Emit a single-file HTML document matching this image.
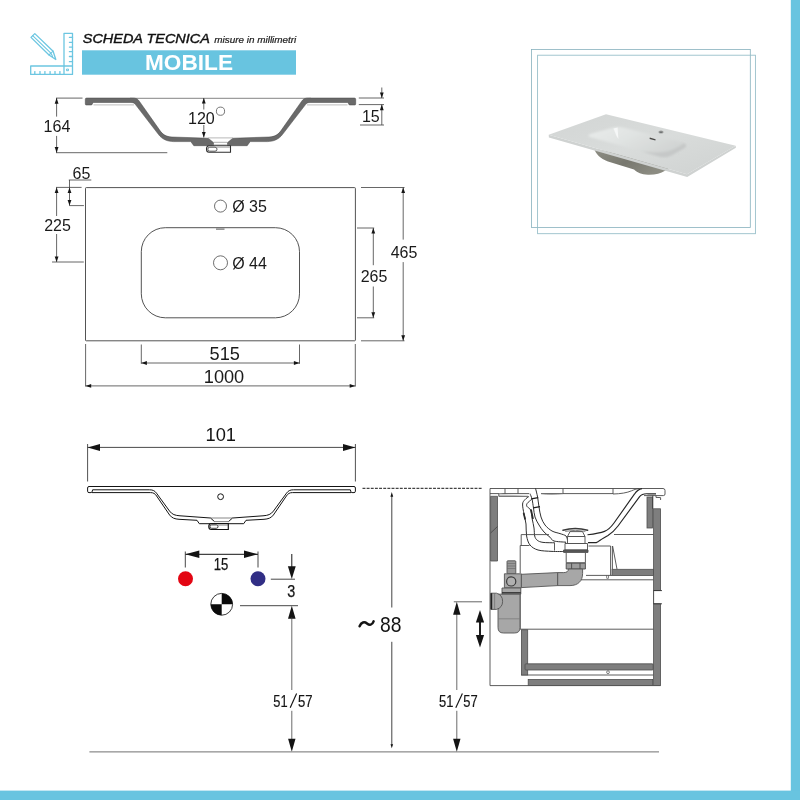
<!DOCTYPE html>
<html><head><meta charset="utf-8"><title>Scheda tecnica</title>
<style>
html,body{margin:0;padding:0;background:#fff;}
body{width:800px;height:800px;overflow:hidden;font-family:"Liberation Sans",sans-serif;}
svg{display:block;will-change:transform;}
svg text{font-family:"Liberation Sans",sans-serif;}
</style></head><body>
<svg width="800" height="800" viewBox="0 0 800 800">
<rect width="800" height="800" fill="#fff"/>
<rect x="790.8" y="0" width="9.2" height="800" fill="#68c4e0"/>
<rect x="0" y="790.6" width="800" height="9.4" fill="#68c4e0"/>
<rect x="82" y="50.3" width="214" height="24.4" fill="#68c4e0"/>
<text x="82.8" y="42.7" font-size="13.5" text-anchor="start" fill="#111" font-style="italic" textLength="127" lengthAdjust="spacingAndGlyphs" stroke="#111" stroke-width="0.4">SCHEDA TECNICA</text>
<text x="214.3" y="42.7" font-size="9.4" text-anchor="start" fill="#1c1c1c" font-style="italic" textLength="82" lengthAdjust="spacingAndGlyphs" stroke="#1c1c1c" stroke-width="0.22">misure in millimetri</text>
<text x="189" y="70" font-size="22.3" text-anchor="middle" fill="#fff" font-weight="bold" textLength="88" lengthAdjust="spacingAndGlyphs">MOBILE</text>
<g fill="none" stroke="#6cc6e1" stroke-width="1.3" stroke-linejoin="round" stroke-linecap="round">
<path d="M30.7 66 H64 V33.3 H72.5 V74.4 H30.7 Z M64 66 H72.5 M64 66 V74.4"/>
<rect x="66.9" y="69.1" width="1.6" height="1.6" stroke-width="1"/>
<path d="M34.8 74.4 V71.6"/>
<path d="M40 74.4 V71.6"/>
<path d="M44.9 74.4 V71.6"/>
<path d="M50.1 74.4 V71.6"/>
<path d="M55 74.4 V71.6"/>
<path d="M59.9 74.4 V71.6"/>
<path d="M72.5 37.4 H69.4"/>
<path d="M72.5 42.3 H69.4"/>
<path d="M72.5 47.1 H69.4"/>
<path d="M72.5 51.7 H69.4"/>
<path d="M72.5 56.5 H69.4"/>
<path d="M72.5 61.7 H69.4"/>
<path d="M31 37.4 L34.8 33.6 L53.1 51.2 L55.8 59.5 L49 55 Z"/>
<path d="M32.7 35.6 L50.9 53.1 M53.1 51.2 L50.9 53.1 L49 55 M50.9 53.1 L52.6 56.6" stroke-width="1.1"/>
</g>
<line x1="56" y1="98.1" x2="82.5" y2="98.1" stroke="#404040" stroke-width="0.8" />
<line x1="130" y1="98.3" x2="311" y2="98.3" stroke="#777" stroke-width="0.9" />
<g fill="#6a6a6a" stroke="#454545" stroke-width="0.5"><path id="secL" d="M86.7 98 H132.5 C136.2 98 137.8 99 139.3 101.2 L160 130.6 C162.6 134.4 166 136.7 172 137 L208.2 138.2 L213.5 142.6 V145.7 H193.8 L190.8 141.6 H173.5 C167 141.4 162.2 139.3 158.6 134.6 L135.5 104.6 C134.4 103.2 133.2 102.5 131 102.5 H93.6 Q92.8 102.5 92.6 103.4 Q92.3 105 91 105 H86.3 Q85.3 105 85.3 104 V99.3 Q85.3 98 86.7 98 Z"/><path d="M86.7 98 H132.5 C136.2 98 137.8 99 139.3 101.2 L160 130.6 C162.6 134.4 166 136.7 172 137 L208.2 138.2 L213.5 142.6 V145.7 H193.8 L190.8 141.6 H173.5 C167 141.4 162.2 139.3 158.6 134.6 L135.5 104.6 C134.4 103.2 133.2 102.5 131 102.5 H93.6 Q92.8 102.5 92.6 103.4 Q92.3 105 91 105 H86.3 Q85.3 105 85.3 104 V99.3 Q85.3 98 86.7 98 Z" transform="translate(441,0) scale(-1,1)"/></g>
<line x1="93.5" y1="104.9" x2="134" y2="104.9" stroke="#b5b5b5" stroke-width="0.9" />
<line x1="307" y1="104.9" x2="347.5" y2="104.9" stroke="#b5b5b5" stroke-width="0.9" />
<line x1="208" y1="137.9" x2="233" y2="137.9" stroke="#999" stroke-width="0.7" />
<line x1="213.5" y1="142.3" x2="227.5" y2="142.3" stroke="#888" stroke-width="0.7" />
<line x1="212.5" y1="144.8" x2="228.5" y2="144.8" stroke="#888" stroke-width="0.6" />
<path d="M209 145.7 H230.5 V152.3 H209 Q206.5 152.3 206.5 149 Q206.5 145.7 209 145.7 Z" fill="#fff" stroke="#2f2f2f" stroke-width="1.1"/>
<rect x="207.8" y="147.2" width="9.2" height="4" rx="2" fill="#fff" stroke="#2f2f2f" stroke-width="0.8"/>
<line x1="217" y1="147.3" x2="230" y2="147.3" stroke="#888" stroke-width="0.6" />
<line x1="56" y1="152.7" x2="167.3" y2="152.7" stroke="#404040" stroke-width="0.8" />
<line x1="56.6" y1="98" x2="56.6" y2="152.7" stroke="#404040" stroke-width="0.8" />
<polygon points="56.6,98.1 54.7,103.69999999999999 58.5,103.69999999999999" fill="#151515"/>
<polygon points="56.6,152.7 54.7,147.1 58.5,147.1" fill="#151515"/>
<rect x="43" y="116.6" width="29" height="19.3" fill="#fff"/>
<text x="57" y="131.6" font-size="16.1" text-anchor="middle" fill="#1a1a1a" >164</text>
<line x1="203.8" y1="98" x2="203.8" y2="137.5" stroke="#404040" stroke-width="0.8" />
<polygon points="203.8,98 201.9,103.6 205.70000000000002,103.6" fill="#151515"/>
<polygon points="203.8,137.5 201.9,131.9 205.70000000000002,131.9" fill="#151515"/>
<rect x="187" y="109.5" width="27" height="15.5" fill="#fff"/>
<text x="201.4" y="123.8" font-size="16.1" text-anchor="middle" fill="#1a1a1a" >120</text>
<circle cx="220.5" cy="111.2" r="4.1" fill="#fff" stroke="#666" stroke-width="0.9"/>
<line x1="358.8" y1="98" x2="384" y2="98" stroke="#404040" stroke-width="0.8" />
<line x1="358.8" y1="104.6" x2="384" y2="104.6" stroke="#404040" stroke-width="0.8" />
<line x1="360" y1="125" x2="384" y2="125" stroke="#404040" stroke-width="0.8" />
<line x1="381.8" y1="87.5" x2="381.8" y2="98" stroke="#404040" stroke-width="0.8" />
<line x1="381.8" y1="104.6" x2="381.8" y2="125" stroke="#404040" stroke-width="0.8" />
<polygon points="381.8,98 379.90000000000003,92.4 383.7,92.4" fill="#151515"/>
<polygon points="381.8,104.6 379.90000000000003,110.19999999999999 383.7,110.19999999999999" fill="#151515"/>
<text x="370.8" y="122" font-size="16" text-anchor="middle" fill="#1a1a1a" >15</text>
<rect x="85.5" y="187.6" width="269.9" height="153.2" rx="0.8" fill="none" stroke="#404040" stroke-width="0.9"/>
<rect x="141.3" y="227.7" width="158.2" height="90.1" rx="24" ry="24" fill="none" stroke="#404040" stroke-width="0.9"/>
<rect x="216" y="228.2" width="8.5" height="1.8" fill="#999"/>
<circle cx="220.5" cy="206.1" r="6" fill="#fff" stroke="#5e5e5e" stroke-width="0.9"/>
<circle cx="220.5" cy="262.8" r="7" fill="#fff" stroke="#5e5e5e" stroke-width="0.9"/>
<text x="232.2" y="212.2" font-size="16" text-anchor="start" fill="#1a1a1a" >Ø 35</text>
<text x="232.2" y="268.9" font-size="16" text-anchor="start" fill="#1a1a1a" >Ø 44</text>
<text x="81.5" y="178.6" font-size="16" text-anchor="middle" fill="#1a1a1a" >65</text>
<line x1="68.8" y1="180" x2="91.3" y2="180" stroke="#404040" stroke-width="0.8" />
<line x1="69.5" y1="180" x2="69.5" y2="205.8" stroke="#404040" stroke-width="0.8" />
<polygon points="69.5,187.4 67.6,193.0 71.4,193.0" fill="#151515"/>
<polygon points="69.5,205.6 67.6,200.0 71.4,200.0" fill="#151515"/>
<line x1="56" y1="187.4" x2="81.6" y2="187.4" stroke="#404040" stroke-width="0.8" />
<line x1="69.5" y1="205.6" x2="83.9" y2="205.6" stroke="#404040" stroke-width="0.8" />
<line x1="56.6" y1="187.4" x2="56.6" y2="262" stroke="#404040" stroke-width="0.8" />
<polygon points="56.6,187.4 54.7,193.0 58.5,193.0" fill="#151515"/>
<polygon points="56.6,262 54.7,256.4 58.5,256.4" fill="#151515"/>
<line x1="52" y1="262" x2="83.8" y2="262" stroke="#404040" stroke-width="0.8" />
<rect x="43" y="216" width="29" height="18" fill="#fff"/>
<text x="57.5" y="231" font-size="16" text-anchor="middle" fill="#1a1a1a" >225</text>
<line x1="141.3" y1="344.5" x2="141.3" y2="363.8" stroke="#404040" stroke-width="0.8" />
<line x1="299.5" y1="344.5" x2="299.5" y2="363.8" stroke="#404040" stroke-width="0.8" />
<line x1="141.3" y1="363" x2="299.5" y2="363" stroke="#404040" stroke-width="0.8" />
<polygon points="141.3,363 146.9,361.1 146.9,364.9" fill="#151515"/>
<polygon points="299.5,363 293.9,361.1 293.9,364.9" fill="#151515"/>
<text x="224.8" y="359.8" font-size="18.2" text-anchor="middle" fill="#1a1a1a" >515</text>
<line x1="85.6" y1="344" x2="85.6" y2="386.5" stroke="#404040" stroke-width="0.8" />
<line x1="355.3" y1="344" x2="355.3" y2="386.5" stroke="#404040" stroke-width="0.8" />
<line x1="85.6" y1="385.9" x2="355.3" y2="385.9" stroke="#404040" stroke-width="0.8" />
<polygon points="85.6,385.9 91.19999999999999,384.0 91.19999999999999,387.79999999999995" fill="#151515"/>
<polygon points="355.3,385.9 349.7,384.0 349.7,387.79999999999995" fill="#151515"/>
<text x="224" y="382.9" font-size="18.2" text-anchor="middle" fill="#1a1a1a" >1000</text>
<line x1="357" y1="228" x2="374.2" y2="228" stroke="#404040" stroke-width="0.8" />
<line x1="357" y1="317.8" x2="374.2" y2="317.8" stroke="#404040" stroke-width="0.8" />
<line x1="373.3" y1="228" x2="373.3" y2="317.8" stroke="#404040" stroke-width="0.8" />
<polygon points="373.3,228 371.40000000000003,233.6 375.2,233.6" fill="#151515"/>
<polygon points="373.3,317.8 371.40000000000003,312.2 375.2,312.2" fill="#151515"/>
<rect x="359" y="265.2" width="30" height="21.3" fill="#fff"/>
<text x="374" y="282.4" font-size="16" text-anchor="middle" fill="#1a1a1a" >265</text>
<line x1="361" y1="187.5" x2="404.5" y2="187.5" stroke="#404040" stroke-width="0.8" />
<line x1="361" y1="340.8" x2="404.5" y2="340.8" stroke="#404040" stroke-width="0.8" />
<line x1="403.2" y1="187.5" x2="403.2" y2="340.8" stroke="#404040" stroke-width="0.8" />
<polygon points="403.2,187.5 401.3,193.1 405.09999999999997,193.1" fill="#151515"/>
<polygon points="403.2,340.8 401.3,335.2 405.09999999999997,335.2" fill="#151515"/>
<rect x="389" y="239.6" width="30" height="22.5" fill="#fff"/>
<text x="404" y="257.8" font-size="16" text-anchor="middle" fill="#1a1a1a" >465</text>
<rect x="531.4" y="49.4" width="218.9" height="178" fill="none" stroke="#86b1bd" stroke-width="0.8"/>
<rect x="537.6" y="55.2" width="217.8" height="178.5" fill="none" stroke="#93bcc7" stroke-width="0.85"/>
<defs>
<linearGradient id="gTop" x1="0" y1="0" x2="1" y2="1">
 <stop offset="0" stop-color="#d2d5d4"/><stop offset="0.5" stop-color="#d9dcdb"/><stop offset="1" stop-color="#cfd2d1"/>
</linearGradient>
<linearGradient id="gBowl" x1="0" y1="0" x2="1" y2="0.6">
 <stop offset="0" stop-color="#e9eceb"/><stop offset="0.45" stop-color="#e0e3e2"/><stop offset="1" stop-color="#d0d3d2"/>
</linearGradient>
<linearGradient id="gUnder" x1="0" y1="0" x2="1" y2="0.5">
 <stop offset="0" stop-color="#8e8e84"/><stop offset="0.55" stop-color="#78786f"/><stop offset="1" stop-color="#8c8c82"/>
</linearGradient>
<filter id="soft" x="-5%" y="-5%" width="110%" height="110%"><feGaussianBlur stdDeviation="0.45"/></filter>
<filter id="soft2" x="-10%" y="-10%" width="120%" height="120%"><feGaussianBlur stdDeviation="1.1"/></filter>
</defs>
<g filter="url(#soft)">
<path d="M594 148.5 C596 154 600 158.5 608 161.5 L634 169.6 C638 173 641 174.6 648 174.8 C655 175 661 173.5 664.5 171 L668.5 168.5 L667 164 Z" fill="url(#gUnder)"/>
<path d="M548.7 134.8 L687 174.2 L735.7 145.8 L735.9 147.8 L687.2 177 L548.9 137.4 Z" fill="#cfd2d1"/>
<path d="M548.7 134.8 L606 114.2 L735.7 145.8 L687 174.2 Z" fill="url(#gTop)"/>
</g>
<g filter="url(#soft2)"><path d="M590.5 137.2 C587.5 136.2 588 134.8 591 133.8 L613.5 127.6 C616.5 126.8 620 126.9 623 127.6 L681 142.2 C686.5 143.6 687 146.4 683 148.6 L671.5 155.2 C668 157.2 663.5 157.6 659.5 156.5 Z" fill="url(#gBowl)"/></g>
<g filter="url(#soft2)"><path d="M683.5 143.2 C687 144.4 687 146.6 683 148.8 L671.5 155.2 C668 157.2 663.5 157.6 659.5 156.5 L640 151 C655 153.5 668 153 675.5 148.5 C680 146 683 144.8 683.5 143.2 Z" fill="#c3c6c5" opacity="0.85"/></g>
<g filter="url(#soft)">
<path d="M613.5 128.5 L617.6 127.6 L618.4 139 L616.5 136 Z" fill="#f7f8f8" opacity="0.9"/>
<ellipse cx="661" cy="132" rx="2.6" ry="1.5" fill="#9a9c9b"/><ellipse cx="661" cy="132.2" rx="1.4" ry="0.8" fill="#6e7070"/>
<path d="M649.8 137.6 L655.6 139.2 L655.4 140.6 L649.6 139 Z" fill="#4b4b49"/>
</g>
<text x="220.8" y="441.3" font-size="18.3" text-anchor="middle" fill="#141414" >101</text>
<line x1="87.6" y1="447.4" x2="355.4" y2="447.4" stroke="#2a2a2a" stroke-width="0.85" />
<polygon points="87.6,447.4 100.0,443.9 100.0,450.9" fill="#141414"/>
<polygon points="355.4,447.4 343.0,443.9 343.0,450.9" fill="#141414"/>
<line x1="87.6" y1="444" x2="87.6" y2="481.5" stroke="#333" stroke-width="0.85" />
<line x1="355.4" y1="444" x2="355.4" y2="481.5" stroke="#333" stroke-width="0.85" />
<line x1="89" y1="486.5" x2="354" y2="486.5" stroke="#141414" stroke-width="1.2" />
<g fill="none" stroke="#141414" stroke-width="1" stroke-linejoin="round"><path d="M92.6 489.8 H149.5 C153 489.8 154.8 490.8 156.5 493.2 L169.5 511 C172 514.5 175.2 515.5 180 515.8 L210.5 518 L214.5 521.6 M92 492.6 H150.5 C153.5 492.6 155 493.6 156.6 496 L169.6 515 C171.8 518 174.8 519 179 519.3 L197 520.3 L199.3 523.7 H216 M89 486.5 Q87.6 486.5 87.6 488 V491.2 Q87.6 492.6 89 492.6 H91 Q92 492.6 92.3 491.2 L92.6 489.8"/><path d="M92.6 489.8 H149.5 C153 489.8 154.8 490.8 156.5 493.2 L169.5 511 C172 514.5 175.2 515.5 180 515.8 L210.5 518 L214.5 521.6 M92 492.6 H150.5 C153.5 492.6 155 493.6 156.6 496 L169.6 515 C171.8 518 174.8 519 179 519.3 L197 520.3 L199.3 523.7 H216 M89 486.5 Q87.6 486.5 87.6 488 V491.2 Q87.6 492.6 89 492.6 H91 Q92 492.6 92.3 491.2 L92.6 489.8" transform="translate(443,0) scale(-1,1)"/></g>
<line x1="210.5" y1="518" x2="232.5" y2="518" stroke="#555" stroke-width="0.7" />
<line x1="214.5" y1="521.6" x2="228.5" y2="521.6" stroke="#555" stroke-width="0.7" />
<circle cx="220.6" cy="496.7" r="2.9" fill="#fff" stroke="#141414" stroke-width="1"/>
<path d="M211.2 523.7 H228.3 V529.5 H211.2 Q208.8 529.5 208.8 526.6 Q208.8 523.7 211.2 523.7 Z" fill="#fff" stroke="#141414" stroke-width="1.2"/>
<rect x="210" y="524.9" width="8" height="3.4" rx="1.7" fill="#fff" stroke="#141414" stroke-width="0.8"/>
<line x1="218" y1="525.2" x2="228" y2="525.2" stroke="#666" stroke-width="0.6" />
<line x1="185.3" y1="554.3" x2="258" y2="554.3" stroke="#141414" stroke-width="1" />
<polygon points="185.3,554.3 199.3,550.55 199.3,558.05" fill="#141414"/>
<polygon points="258,554.3 244,550.55 244,558.05" fill="#141414"/>
<line x1="185.3" y1="551.5" x2="185.3" y2="567.5" stroke="#333" stroke-width="0.9" />
<line x1="258" y1="551.5" x2="258" y2="567.5" stroke="#333" stroke-width="0.9" />
<text x="221" y="569.6" font-size="15.6" text-anchor="middle" fill="#141414" textLength="14.6" lengthAdjust="spacingAndGlyphs" stroke="#141414" stroke-width="0.25">15</text>
<circle cx="185.5" cy="578.8" r="7.5" fill="#e30613"/>
<circle cx="258" cy="578.8" r="7.5" fill="#312e85"/>
<circle cx="221.7" cy="604.3" r="10.9" fill="#fff" stroke="#222" stroke-width="0.9"/>
<path d="M221.7 604.3 V593.4 A10.9 10.9 0 0 1 232.6 604.3 Z M221.7 604.3 V615.2 A10.9 10.9 0 0 1 210.8 604.3 Z" fill="#0a0a0a"/>
<line x1="291.8" y1="554" x2="291.8" y2="568" stroke="#141414" stroke-width="1" />
<polygon points="291.8,579 287.90000000000003,566.2 295.7,566.2" fill="#141414"/>
<line x1="270.8" y1="579.2" x2="295" y2="579.2" stroke="#333" stroke-width="0.9" />
<text x="291.2" y="597.3" font-size="15.8" text-anchor="middle" fill="#141414" textLength="8" lengthAdjust="spacingAndGlyphs" stroke="#141414" stroke-width="0.25">3</text>
<line x1="240" y1="605.7" x2="298" y2="605.7" stroke="#333" stroke-width="0.9" />
<polygon points="291.8,605.7 288.0,618.7 295.6,618.7" fill="#141414"/>
<line x1="291.8" y1="617" x2="291.8" y2="690" stroke="#3a3a3a" stroke-width="0.75" />
<line x1="291.8" y1="710.8" x2="291.8" y2="740" stroke="#3a3a3a" stroke-width="0.75" />
<polygon points="291.8,751.8 288.1,738.8 295.5,738.8" fill="#141414"/>
<text x="273.3" y="707" font-size="16.7" text-anchor="start" fill="#141414" textLength="14.3" lengthAdjust="spacingAndGlyphs" stroke="#141414" stroke-width="0.2">51</text>
<text x="298" y="707" font-size="16.7" text-anchor="start" fill="#141414" textLength="14.6" lengthAdjust="spacingAndGlyphs" stroke="#141414" stroke-width="0.2">57</text>
<line x1="290.2" y1="707.8" x2="296.6" y2="693.6" stroke="#141414" stroke-width="1.15" />
<line x1="89.4" y1="751.9" x2="659" y2="751.9" stroke="#707070" stroke-width="1" />
<line x1="362.5" y1="488.3" x2="482" y2="488.3" stroke="#141414" stroke-width="1" stroke-dasharray="2.9 1.25"/>
<line x1="391.8" y1="495" x2="391.8" y2="607.5" stroke="#141414" stroke-width="0.8" />
<line x1="391.8" y1="641.8" x2="391.8" y2="745" stroke="#141414" stroke-width="0.8" />
<polygon points="391.8,492.1 390.40000000000003,496.70000000000005 393.2,496.70000000000005" fill="#141414"/>
<polygon points="391.8,748.2 390.5,744.2 393.1,744.2" fill="#141414"/>
<text x="380" y="632" font-size="22" text-anchor="start" fill="#141414" textLength="21.5" lengthAdjust="spacingAndGlyphs">88</text>
<path d="M359.6 626.3 C361.3 622.0 364.4 621.4 367.0 623.5 C369.6 625.6 372.2 625.2 373.6 621.4" fill="none" stroke="#141414" stroke-width="2.5" stroke-linecap="round"/>
<line x1="453.8" y1="601.8" x2="482" y2="601.8" stroke="#555" stroke-width="0.9" />
<line x1="456.8" y1="614" x2="456.8" y2="690" stroke="#3a3a3a" stroke-width="0.75" />
<line x1="456.8" y1="710.8" x2="456.8" y2="740" stroke="#3a3a3a" stroke-width="0.75" />
<polygon points="456.8,601.8 453.1,614.8 460.5,614.8" fill="#141414"/>
<polygon points="456.8,751.8 453.1,738.8 460.5,738.8" fill="#141414"/>
<text x="439" y="707" font-size="16.7" text-anchor="start" fill="#141414" textLength="14.4" lengthAdjust="spacingAndGlyphs" stroke="#141414" stroke-width="0.2">51</text>
<text x="463.3" y="707" font-size="16.7" text-anchor="start" fill="#141414" textLength="14.4" lengthAdjust="spacingAndGlyphs" stroke="#141414" stroke-width="0.2">57</text>
<line x1="455.8" y1="707.8" x2="462.4" y2="693.6" stroke="#141414" stroke-width="1.15" />
<line x1="480" y1="620" x2="480" y2="638" stroke="#141414" stroke-width="1.9" />
<polygon points="480,610 475.9,622.5 484.1,622.5" fill="#141414"/>
<polygon points="480,647.5 475.9,635.0 484.1,635.0" fill="#141414"/>
<g fill="none" stroke="#4a4a4a" stroke-width="0.9" stroke-linejoin="round" stroke-linecap="butt">
<path d="M490 685.6 V488.5 H663 Q665 488.5 665 490.5 V494 Q665 495.6 663.4 495.6 H644"/>
<path d="M490 685.6 H660.6"/>
<path d="M490 493.6 H529 M505 488.5 V493.6 M518 488.5 V493.6"/>
<path d="M541 493.6 H613 M563 488.5 V493.6 M613 488.5 V494"/>
<path d="M498.8 493.6 V496.3 H528 " fill="#d5d5d5"/>
<path d="M656 493.8 H647.5 C643.5 493.6 641.5 494.2 639.6 496.6 L618 526 C615 530 612 533 608 535.4 C603 538.2 600 540 598.4 541.4 L596.5 542.6 H588" stroke="#262626" stroke-width="1.15"/>
<path d="M613 494 C621 493.8 627 492.8 631.5 490.8 C634 489.7 636 489 639 488.6"/>
<path d="M642 488.6 C638.5 489.2 636.5 491 634.4 494.2 L614 523 C611.3 526.8 608.5 529.8 604.5 531.4 C600.5 533 596 533.8 587.5 534.8" stroke="#262626" stroke-width="1.15"/>
<path d="M656 495.6 V497.4 L660.6 497.6 V500"/>
<path d="M535.5 488.4 C535.9 489.8 537.0 493.9 537.6 497.0 C538.2 500.1 538.4 503.7 539.0 507.0 C539.6 510.3 540.0 514.0 541.0 517.0 C542.0 520.0 543.2 522.7 545.0 525.0 C546.8 527.3 549.5 529.6 552.0 531.0 C554.5 532.4 557.7 532.8 560.0 533.6 C562.3 534.4 564.8 534.9 566.0 536.0 C567.2 537.1 567.2 539.3 567.5 540.0" stroke="#303030" stroke-width="1.0"/>
<path d="M530.0 493.6 C530.3 494.5 531.4 496.6 532.0 499.0 C532.6 501.4 533.0 505.0 533.5 508.0 C534.0 511.0 534.1 514.2 535.0 517.0 C535.9 519.8 537.5 522.5 539.0 525.0 C540.5 527.5 542.2 530.0 544.0 532.0 C545.8 534.0 548.3 535.7 550.0 537.2 C551.7 538.7 551.3 540.2 554.0 541.0 C556.7 541.8 564.0 542.0 566.0 542.2" stroke="#303030" stroke-width="1.0"/>
<path d="M529.0 496.4 C528.3 496.9 526.1 498.3 525.0 499.6 C523.9 500.9 522.8 501.6 522.6 504.0 C522.4 506.4 523.4 510.7 524.0 514.0 C524.6 517.3 525.6 520.3 526.0 524.0 C526.4 527.7 525.9 532.5 526.6 536.0 C527.3 539.5 528.1 542.7 530.0 545.0 C531.9 547.3 534.3 548.9 538.0 550.0 C541.7 551.1 547.5 551.1 552.0 551.4 C556.5 551.6 562.8 551.5 565.0 551.5" stroke="#303030" stroke-width="1.0"/>
<path d="M531.6 499.4 C530.9 500.1 528.0 502.2 527.2 503.4 C526.4 504.6 526.4 505.4 527.0 506.5 C527.6 507.6 529.7 507.9 530.6 510.0 C531.5 512.1 531.6 516.0 532.2 519.0 C532.8 522.0 533.6 525.2 534.0 528.0 C534.4 530.8 534.2 534.0 534.7 536.0 C535.2 538.0 535.8 539.1 537.2 540.2 C538.6 541.3 540.1 542.0 543.0 542.4 C545.9 542.8 552.6 542.7 554.5 542.8" stroke="#303030" stroke-width="1.0"/>
<path d="M541 493.6 C548 494.8 556 494.4 563 493.6" stroke="#777" stroke-width="0.7"/>
<path d="M554.5 542.6 V550.6 M565.6 542 V551.4"/>
<path d="M531.2 498.8 L538.2 497.6 M533.2 507.8 L540 506.6" stroke="#1c1c1c" stroke-width="1.3"/>
<path d="M523.6 513 L525.2 519.5 M531 509.5 L533 519" stroke="#2a2a2a" stroke-width="1.7"/>
<path d="M549 534.6 H521.2 V545.5 H520.2 V573 M520.2 588 V629.2 H653.5"/>
<path d="M521 545.5 H529.5"/>
<path d="M614 534.5 H653.5"/>
<path d="M588.5 546 H610.6 V575.4 M612.4 546 V569 M612.6 546 L617 569.2"/>
<path d="M586 575.4 H612 M581 579.8 H653.5"/>
<path d="M606.6 575.4 Q606.4 579 607.6 579 Q608.8 579 608.6 575.4" stroke-width="0.7"/>
<path d="M521.3 675 H653.5"/>
<circle cx="608" cy="672.2" r="1.4" stroke-width="0.7"/>
</g>
<g fill="#7e7e7e" stroke="#4f4f4f" stroke-width="0.8">
<path d="M490.6 496.3 H497.5 V561 H490.6 Z"/>
<path d="M490.6 533 L497.5 526.5" fill="none" stroke="#444"/>
<rect x="647" y="497" width="5.5" height="31"/>
<rect x="653.6" y="508.8" width="7" height="81.8"/>
<rect x="653.6" y="603.8" width="7" height="81.8"/>
<rect x="612" y="569.3" width="41.5" height="6.3"/>
<rect x="521.4" y="629.8" width="6.3" height="45.2"/>
<rect x="525" y="663.8" width="128.2" height="6.2" rx="1"/>
<rect x="528.2" y="679.5" width="124.4" height="6"/>
</g>
<path d="M653.6 590.6 H662 M653.6 603.8 H662 M653.6 590.6 V603.8 M652.8 495.6 V508.8" fill="none" stroke="#333" stroke-width="0.9"/>
<g fill="#fff" stroke="#4a4a4a" stroke-width="0.9" stroke-linejoin="round">
<path d="M567.5 536.5 L570 531.6 H582.5 L585 536.5 Z"/>
<path d="M565.2 531.4 Q575.2 529.2 585.4 531.4" fill="none" stroke-width="0.7"/>
<path d="M563 530.3 Q575.2 526.9 587.6 530.3" fill="none" stroke="#3a3a3a" stroke-width="1.5" stroke-linecap="round"/>
<rect x="567.5" y="536.5" width="17.5" height="7"/>
<rect x="565" y="543.5" width="22.5" height="6.5"/>
<rect x="563.6" y="550" width="24.4" height="2.4" fill="#5a5a5a"/>
<rect x="566.2" y="552.4" width="19.2" height="10.4"/>
<rect x="566.2" y="563.2" width="19.2" height="5.8" fill="#9c9c9c"/>
<path d="M571.6 563.2 V569 M580 563.2 V569" fill="none"/>
</g>
<g fill="#a7a7a7" stroke="#555" stroke-width="0.9" stroke-linejoin="round">
<path d="M568.4 569 H582.6 V573.5 C582.6 581 578 585.6 570 585.6 H557.6 V572.6 H563.5 C566.8 572.6 568.4 571.4 568.4 569 Z"/>
<path d="M521.3 574.3 L557.6 572.6 V585.6 L521.3 587.6 Z"/>
<rect x="507" y="560.8" width="8.8" height="13" rx="0.8" fill="#989898"/>
<path d="M507 563.5 H515.8 M507 566 H515.8 M507 568.5 H515.8" fill="none" stroke="#666" stroke-width="0.6"/>
<rect x="504.4" y="573.8" width="16.9" height="14"/>
<circle cx="511.2" cy="581.4" r="4.6" fill="#b0b0b0" stroke="#3a3a3a" stroke-width="1.2"/>
<rect x="502" y="588" width="18.8" height="6.2"/>
<path d="M502 592.8 H520.8" stroke="#333" stroke-width="1.4" fill="none"/>
<path d="M498 594.2 H520 V627.5 Q520 633 514.5 633 H503.5 Q498 633 498 627.5 Z"/>
<path d="M498 618.8 H520" fill="none" stroke="#777" stroke-width="0.7"/>
<path d="M490.8 593.2 H496.5 Q502.6 595 502.6 601.3 Q502.6 607.6 496.5 609.4 H490.8 Z"/>
<path d="M491.4 593.2 V609.4" fill="none" stroke="#222" stroke-width="1.6"/>
<path d="M494.6 593.4 V609.2" fill="none" stroke="#666" stroke-width="0.6"/>
</g>
</svg>
</body></html>
